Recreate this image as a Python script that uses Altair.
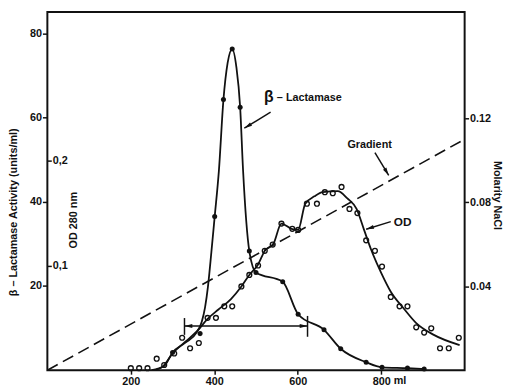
import altair as alt
import pandas as pd

FONT = "Liberation Sans"
INK = "#111111"

# ---- data ----
# beta-lactamase activity (units/ml), measured fractions (filled dots)
beta_ml = [300, 366, 401, 422, 443, 462, 484, 500, 564, 601, 663, 703, 764, 802, 863, 903]
beta_act = [4.2, 8.7, 36.5, 64.3, 76.3, 62.5, 28.3, 23.2, 21.0, 13.3, 9.6, 5.1, 1.9, 0.7, 0.5, 0.3]

# hand-drawn beta-lactamase curve
beta_curve_ml = [250, 280, 300, 330, 358, 370, 378, 385, 393, 401, 411, 422, 432, 443, 453, 462,
                 469, 484, 500, 564, 601, 663, 703, 764, 802, 863, 903]
beta_curve_act = [0, 1.0, 4.2, 6.5, 9.0, 11.5, 15, 20, 28, 36.5, 47.3, 64.3, 73, 76.3, 72, 62.5,
                  47.5, 28.3, 23.2, 21.0, 13.3, 9.6, 5.1, 1.9, 0.7, 0.5, 0.3]

# OD 280 nm, measured fractions (open circles)
od_ml = [200, 220, 240, 262, 280, 304, 323, 342, 363, 384, 404, 424, 443, 465, 484, 505, 521, 540,
         561, 587, 601, 622, 646, 665, 684, 705, 724, 743, 764, 785, 802, 823, 844, 863, 884, 903,
         920, 941, 962, 986]
od_val = [0.002, 0.002, 0.002, 0.011, 0.005, 0.016, 0.031, 0.021, 0.026, 0.050, 0.050, 0.061, 0.061,
          0.080, 0.091, 0.100, 0.114, 0.120, 0.140, 0.135, 0.134, 0.159, 0.159, 0.170, 0.169, 0.175,
          0.154, 0.150, 0.124, 0.114, 0.099, 0.070, 0.061, 0.061, 0.041, 0.036, 0.040, 0.021, 0.021,
          0.031]

# OD fitted curve
od_curve_ml = [257, 278, 300, 330, 358, 384, 410, 440, 465, 484, 505, 521, 542, 561, 585, 601, 618,
               640, 660, 696, 719, 741, 759, 776, 800, 823, 854, 884, 925, 988]
od_curve_val = [0.0, 0.004, 0.016, 0.027, 0.037, 0.049, 0.058, 0.068, 0.080, 0.091, 0.101, 0.114,
                0.121, 0.140, 0.135, 0.134, 0.159, 0.166, 0.170, 0.171, 0.164, 0.154, 0.134, 0.115,
                0.093, 0.075, 0.059, 0.045, 0.034, 0.024]

# NaCl gradient (M)
grad_ml = [0, 1000]
grad_mol = [0.0, 0.110]

# x tick labels
x_ticks = [200, 400, 600, 800]

# annotations (in ml / activity units); "ml" is the unit after the 800 tick label
note_text = ["β", "– Lactamase", "Gradient", "OD", "ml"]
note_ml = [519, 550, 719, 830, 830]
note_act = [65.0, 64.6, 53.6, 35.3, -2.6]
note_size = [16, 11, 11, 12, 11]

seg_ml = [535, 785, 823, 328.6, 328.6, 623.5]
seg_act = [61.3, 51.7, 35.3, 10.5, 12.4, 12.9]
seg_ml2 = [472, 818, 764, 623.5, 328.6, 623.5]
seg_act2 = [57.5, 46.3, 33.5, 10.5, 8.4, 7.95]

head_ml = [472, 818, 764, 328.6, 623.5]
head_act = [57.5, 46.3, 33.5, 10.5, 10.5]
head_angle = [239, 149, 252, 270, 90]

# ---- scales and axes ----
x_scale = alt.Scale(domain=[0, 1000], nice=False, zero=False)
act_scale = alt.Scale(domain=[0, 85.1], nice=False, zero=False)
od_scale = alt.Scale(domain=[0, 0.342], nice=False, zero=False)
mol_scale = alt.Scale(domain=[0, 0.1706], nice=False, zero=False)

common = dict(labelFont=FONT, labelFontSize=11, labelFontWeight="bold", labelColor=INK,
              titleFont=FONT, titleFontSize=11, titleFontWeight="bold", titleColor=INK,
              tickColor=INK, tickWidth=1.5, domain=False, grid=False)

x_axis = alt.Axis(orient="bottom", values=x_ticks, tickSize=4, labelPadding=2, title=None,
                  labelFlush=False, **common)

act_axis = alt.Axis(orient="left", values=[20, 40, 60, 80], tickSize=5, labelPadding=1,
                    title="β – Lactamase Activity (units/ml)", titleAngle=270, titleX=-34, titleY=203,
                    titleAlign="center", titleBaseline="middle", **common)

od_axis = alt.Axis(orient="right", offset=-424, values=[0.1, 0.2],
                   labelExpr="datum.value < 0.15 ? '0,1' : '0,2'", tickSize=4, labelPadding=1,
                   title="OD 280 nm", titleAngle=270, titleX=27, titleY=211,
                   titleAlign="center", titleBaseline="middle", **common)

mol_axis = alt.Axis(orient="right", values=[0.04, 0.08, 0.12], format=".2f", tickSize=4, labelPadding=1,
                    title="Molarity NaCl", titleAngle=90, titleX=32, titleY=186,
                    titleAlign="center", titleBaseline="middle", **common)


def X(field="ml:Q"):
    # identical x axis in every layer so the shared axis merges cleanly
    return alt.X(field, scale=x_scale, axis=x_axis)


# ---- layers (flat; each layer has its own y scale with fixed domain) ----
beta_curve_df = pd.DataFrame({"ml": beta_curve_ml, "act": beta_curve_act})
beta_df = pd.DataFrame({"ml": beta_ml, "act": beta_act})
note_df = pd.DataFrame({"t": note_text, "ml": note_ml, "act": note_act, "fs": note_size})
seg_df = pd.DataFrame({"ml": seg_ml, "act": seg_act, "ml2": seg_ml2, "act2": seg_act2})
head_df = pd.DataFrame({"ml": head_ml, "act": head_act, "ang": head_angle})
od_curve_df = pd.DataFrame({"ml": od_curve_ml, "od": od_curve_val})
od_df = pd.DataFrame({"ml": od_ml, "od": od_val})
grad_df = pd.DataFrame({"ml": grad_ml, "mol": grad_mol})

grad = alt.Chart(grad_df).mark_line(color=INK, strokeWidth=1.6, strokeDash=[12, 6]).encode(
    x=X(),
    y=alt.Y("mol:Q", scale=mol_scale, axis=mol_axis),
)
od_line = alt.Chart(od_curve_df).mark_line(color=INK, strokeWidth=1.8, interpolate="monotone").encode(
    x=X(),
    y=alt.Y("od:Q", scale=od_scale, axis=od_axis),
)
od_pts = alt.Chart(od_df).mark_point(shape="circle", filled=False, color=INK, size=24,
                                     strokeWidth=1.4, opacity=1).encode(
    x=X(),
    y=alt.Y("od:Q", scale=od_scale, axis=None),
)
beta_line = alt.Chart(beta_curve_df).mark_line(color=INK, strokeWidth=1.8, interpolate="monotone").encode(
    x=X(),
    y=alt.Y("act:Q", scale=act_scale, axis=act_axis),
)
beta_pts = alt.Chart(beta_df).mark_circle(color=INK, size=26, opacity=1).encode(
    x=X(),
    y=alt.Y("act:Q", scale=act_scale, axis=None),
)
segs = alt.Chart(seg_df).mark_rule(color=INK, strokeWidth=1.5).encode(
    x=X(), x2="ml2:Q",
    y=alt.Y("act:Q", scale=act_scale, axis=None), y2="act2:Q",
)
heads = alt.Chart(head_df).mark_point(shape="M0,0L0.6,2.4L-0.6,2.4Z", filled=True, color=INK,
                                      size=44, opacity=1).encode(
    x=X(),
    y=alt.Y("act:Q", scale=act_scale, axis=None),
    angle=alt.Angle("ang:Q", scale=None),
)
notes = alt.Chart(note_df).mark_text(font=FONT, fontWeight="bold", color=INK, align="left",
                                     baseline="middle").encode(
    x=X(),
    y=alt.Y("act:Q", scale=act_scale, axis=None),
    text="t:N",
    size=alt.Size("fs:Q", scale=None),
)

chart = alt.layer(grad, od_line, od_pts, beta_line, beta_pts, segs, heads, notes).resolve_scale(
    y="independent"
).properties(
    width=424, height=364,
    autosize=alt.AutoSizeParams(type="none"),
    padding={"left": 40, "top": 1, "right": 40, "bottom": 17},
    background="white",
).configure_view(stroke=INK, strokeWidth=2)

chart.save("out.html", embed_options={"renderer": "svg", "actions": False})
